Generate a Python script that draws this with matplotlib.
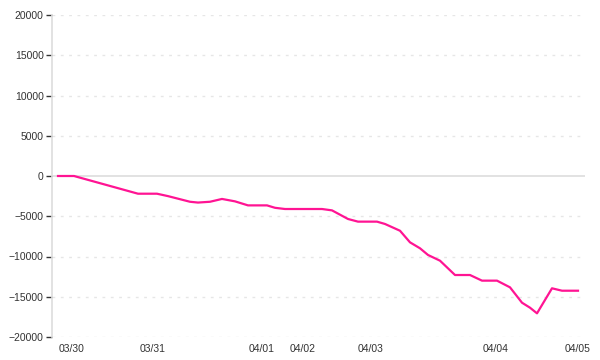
import numpy as np
import matplotlib
matplotlib.use("Agg")
import matplotlib.pyplot as plt

plt.rcParams['font.family'] = ['Liberation Sans', 'DejaVu Sans']

# cumulative value, sampled along an index axis
step = [0, 4, 20, 24.75, 27.5, 33, 35, 38, 41, 44.25, 47.5, 52.25, 54.25, 56.75,
        66, 68.5, 72.5, 75, 79.75, 81.75, 85.5, 88, 90.5, 92.5, 95.5, 99.25,
        103, 106, 109.75, 113, 116, 118, 119.75, 123.5, 126, 130]
value = [0, 0, -2200, -2200, -2500, -3200, -3300, -3200, -2850, -3150, -3650,
         -3650, -3950, -4100, -4100, -4270, -5340, -5670, -5670, -5960, -6800,
         -8240, -8980, -9810, -10520, -12300, -12300, -13000, -13000, -13830,
         -15740, -16360, -17060, -13950, -14250, -14250]

tick_pos = [3.5, 23.75, 51, 61.25, 78.25, 109.5, 130]
tick_lab = ["03/30", "03/31", "04/01", "04/02", "04/03", "04/04", "04/05"]
y_ticks = [20000, 15000, 10000, 5000, 0, -5000, -10000, -15000, -20000]

fig = plt.figure(figsize=(6, 3.6), dpi=100)
ax = fig.add_axes([52/600, 23/360, (585-52)/600, (337-15)/360])

for yv in y_ticks:
    if yv == 0:
        ax.axhline(0, color="#dddddd", lw=1.2, zorder=1)
    else:
        ax.axhline(yv, color="#e6e6e6", lw=1, ls=(0, (2, 4)), zorder=1)

ax.plot(step, value, color="#ff1493", lw=1.6, zorder=3)

ax.set_xlim(-1.5, 131.75)
ax.set_ylim(-20000, 20000)
ax.set_yticks(y_ticks)
ax.set_yticklabels([str(v).replace("-", "\u2212") for v in y_ticks])
ax.set_xticks(tick_pos)
ax.set_xticklabels(tick_lab)

for s in ["top", "right", "bottom"]:
    ax.spines[s].set_visible(False)
ax.spines["left"].set_color("#dddddd")
ax.spines["left"].set_linewidth(1.2)

ax.tick_params(axis="y", length=4.5, width=1, color="#333333", pad=1.5,
               labelsize=7.5, labelcolor="#333333")
ax.tick_params(axis="x", length=0, pad=5, labelsize=7.5, labelcolor="#333333")

fig.savefig("out.png", dpi=100)
